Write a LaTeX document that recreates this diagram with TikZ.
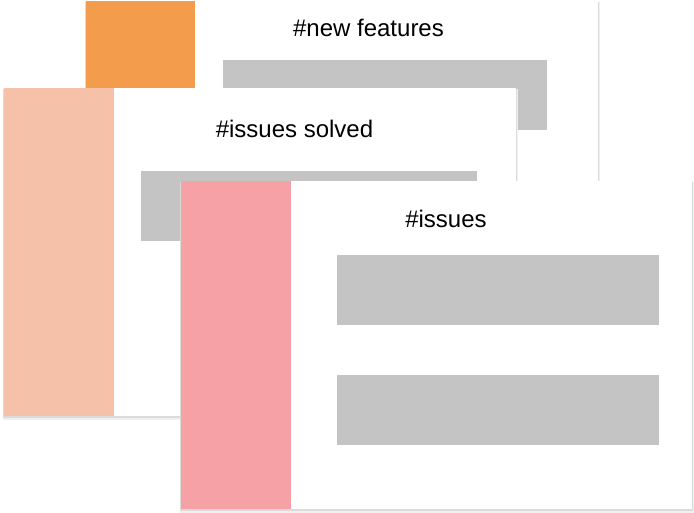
\documentclass[tikz,border=0pt]{standalone}
\usepackage{fontspec}
\setmainfont{Liberation Sans}
\usetikzlibrary{calc}
\definecolor{featorange}{HTML}{F39C4C}
\definecolor{solvedpeach}{HTML}{F5C1A8}
\definecolor{issuepink}{HTML}{F5A1A5}
\definecolor{bargray}{HTML}{C4C4C4}
\newcommand{\cardbox}[6]{\fill[black!6] (#1-1.5,#2+1) rectangle (#3+1.5,#4+3.5); \fill[black!14] (#1-0.6,#2+1) rectangle (#3+0.6,#4+1.5); \fill[white] ( #1 , #2 ) rectangle ( #3 , #4 ); \fill[#6] ( #1 , #2 ) rectangle ( #5 , #4 );}
\newcommand{\greybar}[4]{\fill[bargray] ( #1 , #2 ) rectangle ( #3 , #4 );}
\tikzset{cardtitle/.style={anchor=base, inner sep=0pt, font=\fontsize{24}{28}\selectfont}}

\begin{document}
\begin{tikzpicture}[x=1pt, y=-1pt]
        \useasboundingbox (0,0) rectangle (694,513);
        % back card
        \cardbox{86}{1}{598}{330}{195}{featorange}
        \node[cardtitle] (newfeat) at (368.5,37) {\#new features};
        \greybar{223}{60}{547}{130}
        % middle card
        \cardbox{4}{88}{516}{416}{114}{solvedpeach}
        \node[cardtitle] (solved) at (294.5,137.5) {\#issues solved};
        \greybar{141}{171}{477}{241}
        % front card
        \cardbox{181}{181}{692}{509}{291}{issuepink}
        \node[cardtitle] (issues) at (446,228) {\#issues};
        \greybar{337}{255}{659}{325}
        \greybar{337}{375}{659}{445}
    \end{tikzpicture}
\end{document}
